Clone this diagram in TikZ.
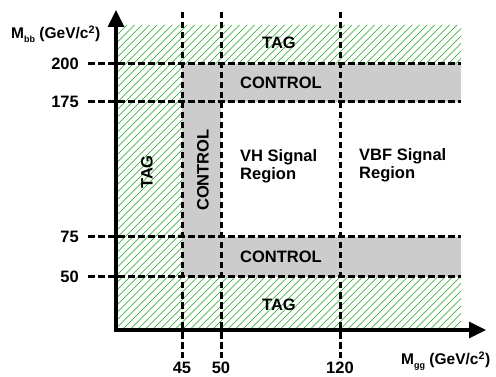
\documentclass[tikz,border=0pt]{standalone}
\usepackage{fontspec}
\setmainfont{Liberation Sans}
\usetikzlibrary{arrows.meta}
\definecolor{hatchgreen}{RGB}{25,165,25}
\definecolor{ctrlgrey}{RGB}{204,204,204}
\begin{document}
\begin{tikzpicture}[x=1pt,y=-1pt,
  lbl/.style={font=\fontsize{16.5}{18}\selectfont\bfseries, inner sep=0pt},
  axlbl/.style={font=\fontsize{15.5}{18}\selectfont\bfseries, inner sep=0pt},
  dline/.style={line width=3pt, dash pattern=on 6.5pt off 3.5pt},
  axisline/.style={line width=3.2pt, {Triangle[length=17pt,width=16pt]}-{Triangle[length=17pt,width=16pt]}}]
\useasboundingbox (0,0) rectangle (496,377);
% hatched TAG regions
\begin{scope}
\clip (116,25) rectangle (461,64) (116,64) rectangle (182,277) (116,277) rectangle (461,330);
\foreach \i in {-240,-232.5,...,470} \draw[hatchgreen, line width=0.6pt] (\i,332) -- ++(350,-350);
\end{scope}
% grey CONTROL regions
\fill[ctrlgrey] (182,64) rectangle (461,102);
\fill[ctrlgrey] (182,102) rectangle (221,237);
\fill[ctrlgrey] (182,237) rectangle (461,277);
% dashed cut lines
\foreach \yy in {64,102,237,277} \draw[dline] (88,\yy) -- (461,\yy);
\foreach \xx in {182,221,340} \draw[dline] (\xx,12) -- (\xx,358);
% axes
\coordinate (ytip) at (116,10);
\coordinate (origin) at (116,330);
\coordinate (xtip) at (486,330);
\draw[axisline] (ytip) -- (origin) -- (xtip);
% region labels
\node[lbl] (tagtop) at (279,43) {TAG};
\node[lbl] (ctrltop) at (281,83) {CONTROL};
\node[lbl, rotate=90] (tagleft) at (147,172) {TAG};
\node[lbl, rotate=90] (ctrlleft) at (203,170) {CONTROL};
\node[lbl, align=left, anchor=west] (vh) at (240,166) {VH Signal\\Region};
\node[lbl, align=left, anchor=west] (vbf) at (359,165) {VBF Signal\\Region};
\node[lbl] (ctrlbot) at (281,257) {CONTROL};
\node[lbl] (tagbot) at (279,305) {TAG};
% tick labels
\node[lbl, anchor=east] (y200) at (79,64) {200};
\node[lbl, anchor=east] (y175) at (79,102) {175};
\node[lbl, anchor=east] (y75) at (79,237) {75};
\node[lbl, anchor=east] (y50) at (79,277) {50};
\node[lbl] (x45) at (182,368) {45};
\node[lbl] (x50) at (221,368) {50};
\node[lbl] (x120) at (340,368) {120};
% axis labels
\node[axlbl, anchor=west] (ylab) at (11,34) {M\raisebox{-4pt}{\fontsize{9}{9}\selectfont bb} (GeV/c\textsuperscript{2})};
\node[axlbl, anchor=west] (xlab) at (401,361) {M\raisebox{-4pt}{\fontsize{9}{9}\selectfont gg} (GeV/c\textsuperscript{2})};
\end{tikzpicture}
\end{document}
